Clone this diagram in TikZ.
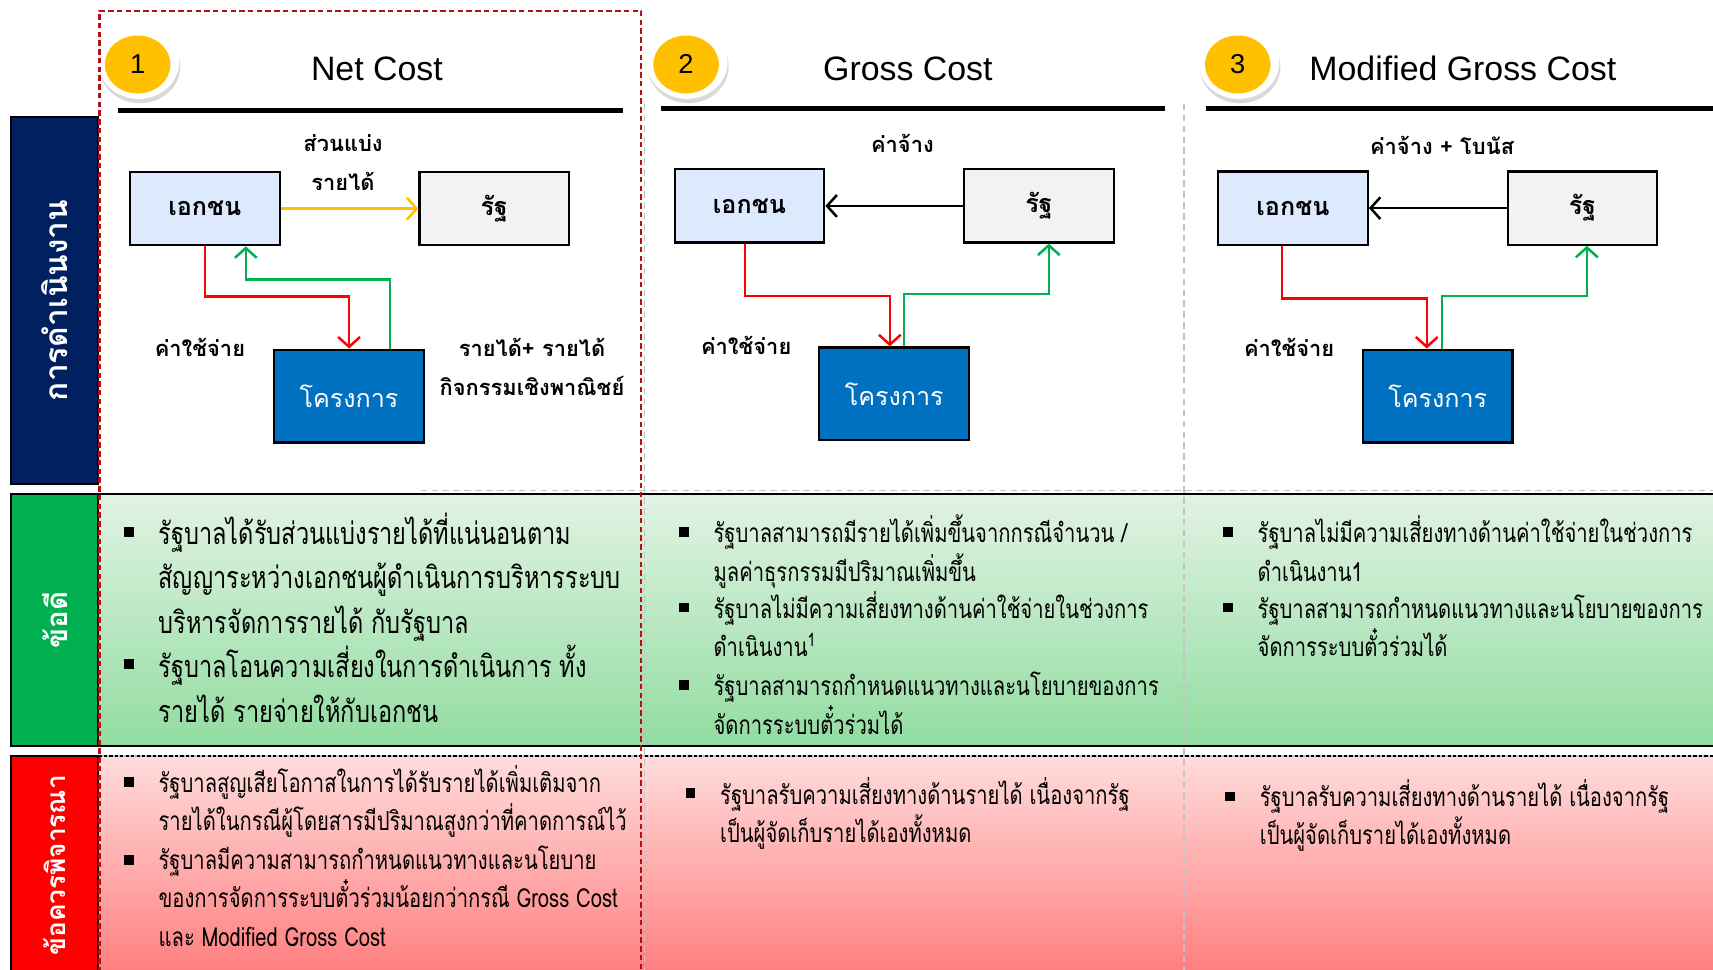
\documentclass[tikz,border=0pt]{standalone}
\usepackage{fontspec}
\setmainfont{Liberation Sans}
\newfontfamily\thaifont[Script=Thai]{Loma}
\newfontfamily\thaibody[Script=Thai,FakeStretch=0.77]{Loma}
\usetikzlibrary{arrows.meta,positioning,calc,shapes.geometric,shadows}
\definecolor{ink}{RGB}{0,0,0}
\definecolor{navyband}{RGB}{0,32,96}
\definecolor{greenband}{RGB}{0,176,80}
\definecolor{redband}{RGB}{255,0,0}
\definecolor{greentop}{RGB}{226,243,228}
\definecolor{greenbot}{RGB}{146,220,160}
\definecolor{redtop}{RGB}{255,220,220}
\definecolor{redbot}{RGB}{255,128,128}
\definecolor{frame}{RGB}{180,16,22}
\definecolor{sep}{RGB}{195,195,195}
\definecolor{gold}{RGB}{255,192,0}
\definecolor{pvfill}{RGB}{221,233,253}
\definecolor{govfill}{RGB}{242,242,242}
\definecolor{prjfill}{RGB}{0,112,192}
\definecolor{costred}{RGB}{255,0,0}
\definecolor{revgreen}{RGB}{0,176,80}
\newcommand\ptsbig{\thaibody\fontsize{28}{41}\selectfont}
\newcommand\ptssmall{\thaibody\fontsize{24}{35}\selectfont}
\tikzset{
  party/.style={draw=ink, line width=2pt, minimum width=137pt, minimum height=67pt, inner sep=0pt,
    font=\thaifont\bfseries\fontsize{23}{28}\selectfont},
  pv/.style={party, fill=pvfill},
  gov/.style={party, fill=govfill},
  prj/.style={party, fill=prjfill, minimum height=85pt, text=white, font=\thaifont\fontsize{23}{28}\selectfont},
  tip/.style={-{Straight Barb[length=9pt,width=20pt]}, line width=2.3pt},
  costline/.style={tip, color=costred},
  revline/.style={tip, color=revgreen},
  feeline/.style={tip, color=ink},
  shareline/.style={tip, color=gold},
  lbl/.style={font=\thaifont\bfseries\fontsize{20}{36}\selectfont, align=center, inner sep=0pt},
  title/.style={font=\fontsize{31}{36}\selectfont, inner sep=0pt, anchor=base},
  rule/.style={line width=4.5pt},
  ring/.style={ellipse, fill=white, minimum width=74pt, minimum height=67pt, inner sep=0pt,
    drop shadow={shadow xshift=1pt, shadow yshift=-4pt, opacity=0.3}},
  numdisc/.style={ellipse, fill=gold, minimum width=60pt, minimum height=53pt, inner sep=0pt,
    font=\fontsize{25}{30}\selectfont},
  rowlab/.style={draw=ink, line width=2pt, rotate=90, minimum height=80pt, inner sep=0pt, text=white,
    font=\thaifont\bfseries\fontsize{27}{30}\selectfont},
  pts/.style={anchor=base west, align=left, inner sep=0pt},
  sq/.style={fill=ink, minimum size=9pt, inner sep=0pt},
  gridline/.style={draw=sep, line width=1.5pt, dash pattern=on 6pt off 4pt},
}

\begin{document}
\begin{tikzpicture}[x=1pt, y=-1pt]
  \useasboundingbox (0,0) rectangle (1568,887);
  % row bands
  \fill[top color=greentop, bottom color=greenbot] (90,452) rectangle (1568,683);
  \fill[top color=redtop, bottom color=redbot] (90,692) rectangle (1568,887);
  \draw[line width=2pt] (90,452) -- (1568,452) (90,683) -- (1568,683);
  \draw[sep, line width=1.5pt] (90,692) -- (1568,692);
  \draw[ink, line width=1pt, dash pattern=on 3pt off 2pt] (90,692) -- (1568,692);
  \draw[gridline] (385,449) -- (1568,449);
  \draw[gridline] (590,95) -- (590,890) (1084,95) -- (1084,890);

  % row labels
  \node[rowlab, fill=navyband, minimum width=336pt, font=\thaifont\bfseries\fontsize{29}{30}\selectfont] (opLab) at (50,275) {การดำเนินงาน};
  \node[rowlab, fill=greenband, minimum width=231pt] (proLab) at (50,567.5) {ข้อดี};
  \node[rowlab, fill=redband, minimum width=200pt, font=\thaifont\bfseries\fontsize{24}{30}\selectfont] (conLab) at (50,792) {ข้อควรพิจารณา};

  % headers
  \foreach \x/\n [count=\i] in {127/1, 629/2, 1134/3}{
    \node[ring] (ring\i) at (\x,57) {};
    \node[numdisc] (num\i) at (\x-1,59) {\n};
  }
  \node[title] (netT) at (345,74) {Net Cost};
  \node[title] (grossT) at (831,74) {Gross Cost};
  \node[title] (modT) at (1339,74) {Modified Gross Cost};
  \draw[rule] (108,101) -- (570,101);
  \draw[rule] (605,99) -- (1066,99);
  \draw[rule] (1104,99) -- (1568,99);

  % Net Cost
  \node[pv]  (pv1)  at (187.5,191) {เอกชน};
  \node[gov] (gov1) at (452.5,191) {รัฐ};
  \node[prj] (prj1) at (319.5,362.5) {โครงการ};
  \draw[shareline] (pv1) -- (gov1);
  \draw[costline] (pv1.south) -- ++(0,46) -| (prj1.north);
  \draw[revline] ([xshift=37.5pt]prj1.north) -- ++(0,-63) -| ([xshift=37.5pt]pv1.south);
  \node[lbl] (share1) at (314,149) {ส่วนแบ่ง\\รายได้};
  \node[lbl] (exp1) at (183,318) {ค่าใช้จ่าย};
  \node[lbl] (inc1) at (487,336) {รายได้+ รายได้\\กิจกรรมเชิงพาณิชย์};

  % Gross Cost
  \node[pv]  (pv2)  at (686,188.5) {เอกชน};
  \node[gov] (gov2) at (951,188.5) {รัฐ};
  \node[prj] (prj2) at (818.5,360.5) {โครงการ};
  \draw[feeline] (gov2) -- (pv2);
  \draw[costline] ([xshift=-4pt]pv2.south) -- ++(0,48) -| ([xshift=-4pt]prj2.north);
  \draw[revline] ([xshift=9pt]prj2.north) -- ++(0,-48) -| ([xshift=9pt]gov2.south);
  \node[lbl] (fee2) at (826,131) {ค่าจ้าง};
  \node[lbl] (exp2) at (683,316) {ค่าใช้จ่าย};

  % Modified Gross Cost
  \node[pv]  (pv3)  at (1183.5,190.5) {เอกชน};
  \node[gov] (gov3) at (1448.5,190.5) {รัฐ};
  \node[prj] (prj3) at (1316,362.5) {โครงการ};
  \draw[feeline] (gov3) -- (pv3);
  \draw[costline] ([xshift=-10pt]pv3.south) -- ++(0,48) -| ([xshift=-10pt]prj3.north);
  \draw[revline] ([xshift=4pt]prj3.north) -- ++(0,-48) -| ([xshift=4pt]gov3.south);
  \node[lbl] (fee3) at (1320,133) {ค่าจ้าง + โบนัส};
  \node[lbl] (exp3) at (1180,318) {ค่าใช้จ่าย};

  % bullets
  \foreach \x/\y [count=\i] in {118/487, 118/608, 626/487, 626/556, 626/627, 1124/487, 1124/556,
      118/716, 118/787, 632/726, 1126/729}
    \node[sq] (bul\i) at (\x,\y) {};

  % pros (anchored at the last line)
  \node[pts, font=\ptsbig] (pro1a) at (145,580) {รัฐบาลได้รับส่วนแบ่งรายได้ที่แน่นอนตาม\\สัญญาระหว่างเอกชนผู้ดำเนินการบริหารระบบ\\บริหารจัดการรายได้ กับรัฐบาล};
  \node[pts, font=\ptsbig] (pro1b) at (145,661) {รัฐบาลโอนความเสี่ยงในการดำเนินการ ทั้ง\\รายได้ รายจ่ายให้กับเอกชน};
  \node[pts, font=\ptssmall] (pro2a) at (653,532) {รัฐบาลสามารถมีรายได้เพิ่มขึ้นจากกรณีจำนวน /\\มูลค่าธุรกรรมมีปริมาณเพิ่มขึ้น};
  \node[pts, font=\ptssmall] (pro2b) at (653,601) {รัฐบาลไม่มีความเสี่ยงทางด้านค่าใช้จ่ายในช่วงการ\\ดำเนินงาน\textsuperscript{1}};
  \node[pts, font=\ptssmall] (pro2c) at (653,672) {รัฐบาลสามารถกำหนดแนวทางและนโยบายของการ\\จัดการระบบตั๋วร่วมได้};
  \node[pts, font=\ptssmall] (pro3a) at (1151,532) {รัฐบาลไม่มีความเสี่ยงทางด้านค่าใช้จ่ายในช่วงการ\\ดำเนินงาน1};
  \node[pts, font=\ptssmall] (pro3b) at (1151,601) {รัฐบาลสามารถกำหนดแนวทางและนโยบายของการ\\จัดการระบบตั๋วร่วมได้};

  % cons
  \node[pts, font=\ptssmall] (con1a) at (145,760) {รัฐบาลสูญเสียโอกาสในการได้รับรายได้เพิ่มเติมจาก\\รายได้ในกรณีผู้โดยสารมีปริมาณสูงกว่าที่คาดการณ์ไว้};
  \node[pts, font=\ptssmall] (con1b) at (145,866) {รัฐบาลมีความสามารถกำหนดแนวทางและนโยบาย\\ของการจัดการระบบตั๋วร่วมน้อยกว่ากรณี Gross Cost\\และ Modified Gross Cost};
  \node[pts, font=\ptssmall] (con2) at (659,771) {รัฐบาลรับความเสี่ยงทางด้านรายได้ เนื่องจากรัฐ\\เป็นผู้จัดเก็บรายได้เองทั้งหมด};
  \node[pts, font=\ptssmall] (con3) at (1153,773) {รัฐบาลรับความเสี่ยงทางด้านรายได้ เนื่องจากรัฐ\\เป็นผู้จัดเก็บรายได้เองทั้งหมด};

  % Net Cost frame
  \draw[frame, line width=2.2pt, dash pattern=on 5pt off 3pt] (91,890) -- (91,10) -- (587,10) -- (587,890);
\end{tikzpicture}
\end{document}
